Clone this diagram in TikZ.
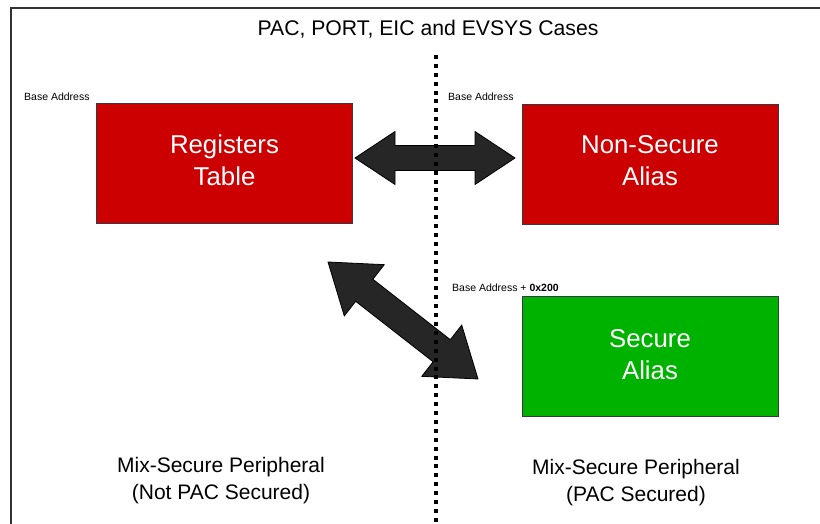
\documentclass[tikz,border=0pt]{standalone}
\usepackage{fontspec}
\setmainfont{Liberation Sans}
\usetikzlibrary{calc}
\definecolor{boxred}{HTML}{CC0000}
\definecolor{boxgreen}{HTML}{00B200}
\definecolor{edgegray}{HTML}{36393D}
\definecolor{framegray}{HTML}{333333}
\definecolor{arrowfill}{HTML}{262626}
\tikzset{
  regbox/.style={rectangle, draw=edgegray, line width=1pt, minimum width=256pt, minimum height=120pt, inner sep=0pt},
  boxtext/.style={text=white, align=center, inner sep=0pt, font=\fontsize{25.8}{32}\selectfont},
  captext/.style={text=black, align=center, inner sep=0pt, font=\fontsize{21}{26.6}\selectfont},
  titletext/.style={text=black, inner sep=0pt, font=\fontsize{21.2}{26}\selectfont},
  smalltext/.style={text=black, inner sep=0pt, font=\fontsize{10.5}{12}\selectfont},
  fatarrow/.style={fill=arrowfill, draw=black, line width=0.8pt, line join=miter},
  frameline/.style={draw=framegray, line width=2pt},
  dotline/.style={draw=black, line width=4pt, dash pattern=on 4pt off 4.9pt},
}
\begin{document}
\begin{tikzpicture}[x=1pt, y=-1pt]
\useasboundingbox (0,0) rectangle (820,524);
\fill[white] (0,0) rectangle (820,524);
\draw[frameline] (11.2,7.7) rectangle (840,545);

% title
\node[titletext, anchor=base] (title) at (428,35.5) {PAC, PORT, EIC and EVSYS Cases};

% boxes
\node[regbox, fill=boxred] (rt) at (224.5,164) {};
\node[regbox, fill=boxred] (nsa) at (650,164.5) {};
\node[regbox, fill=boxgreen] (sa) at (650,356) {};
\node[boxtext] (rtt) at ([yshift=3.5pt]rt.center) {Registers\\Table};
\node[boxtext] (nsat) at ([yshift=3.5pt]nsa.center) {Non-Secure\\Alias};
\node[boxtext] (sat) at ([yshift=1pt]sa.center) {Secure\\Alias};

% small labels
\node[smalltext, anchor=base west] (ba1) at (24,101) {Base Address};
\node[smalltext, anchor=base west] (ba2) at (448,101) {Base Address};
\node[smalltext, anchor=base west] (ba3) at (452,291) {Base Address + \textbf{0x200}};

% bottom captions
\node[captext] (cl) at (221,480.5) {Mix-Secure Peripheral\\(Not PAC Secured)};
\node[captext] (cr) at (636,482.8) {Mix-Secure Peripheral\\(PAC Secured)};

% horizontal double arrow
\coordinate (hA) at (355,158);
\coordinate (hB) at (515,158);
\coordinate (hA1) at ($(hA)!40pt!(hB)$);
\coordinate (hB1) at ($(hB)!40pt!(hA)$);
\path[fatarrow] (hA) -- ($(hA1)!26.5pt!90:(hB)$) -- ($(hA1)!12.5pt!90:(hB)$)
  -- ($(hB1)!12.5pt!-90:(hA)$) -- ($(hB1)!26.5pt!-90:(hA)$) -- (hB)
  -- ($(hB1)!26.5pt!90:(hA)$) -- ($(hB1)!12.5pt!90:(hA)$)
  -- ($(hA1)!12.5pt!-90:(hB)$) -- ($(hA1)!26.5pt!-90:(hB)$) -- cycle;

% diagonal double arrow
\coordinate (dA) at (328,262);
\coordinate (dB) at (478,379);
\coordinate (dA1) at ($(dA)!46pt!(dB)$);
\coordinate (dB1) at ($(dB)!46pt!(dA)$);
\path[fatarrow] (dA) -- ($(dA1)!32.5pt!90:(dB)$) -- ($(dA1)!14pt!90:(dB)$)
  -- ($(dB1)!14pt!-90:(dA)$) -- ($(dB1)!32.5pt!-90:(dA)$) -- (dB)
  -- ($(dB1)!32.5pt!90:(dA)$) -- ($(dB1)!14pt!90:(dA)$)
  -- ($(dA1)!14pt!-90:(dB)$) -- ($(dA1)!32.5pt!-90:(dB)$) -- cycle;

% dotted divider
\coordinate (dtop) at (436,55);
\coordinate (dbot) at (436,540);
\draw[dotline] (dtop) -- (dbot);
\end{tikzpicture}
\end{document}
